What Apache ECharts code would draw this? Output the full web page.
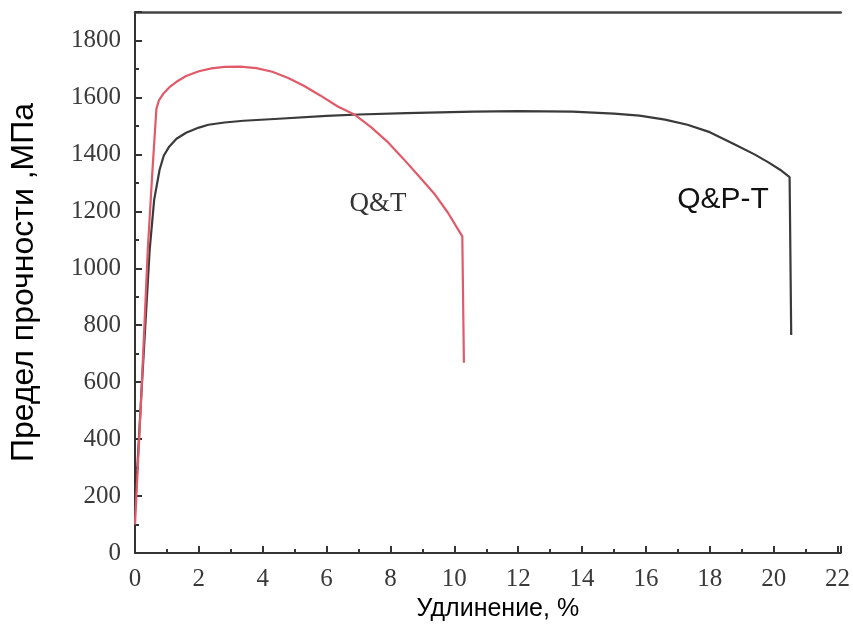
<!DOCTYPE html>
<html>
<head>
<meta charset="utf-8">
<script src="https://cdn.jsdelivr.net/npm/echarts@6/dist/echarts.min.js"></script>
<style>
html,body{margin:0;padding:0;background:#fff;}
#chart{width:853px;height:634px;}
</style>
</head>
<body>
<div id="chart"></div>
<script>
// Q&T curve (red)
var qtStrain = [0, 0.2, 0.4, 0.55, 0.67, 0.75, 0.9, 1.1, 1.3, 1.6, 2.0, 2.4, 2.8, 3.3, 3.8, 4.3, 4.8, 5.3, 5.8, 6.35, 6.9, 7.4, 7.9, 8.4, 8.9, 9.4, 9.8, 10.25, 10.3];
var qtStress = [100, 560, 1065, 1350, 1560, 1590, 1615, 1638, 1655, 1675, 1692, 1702, 1707, 1708, 1703, 1690, 1668, 1640, 1607, 1568, 1538, 1495, 1445, 1385, 1322, 1258, 1195, 1112, 668];
// Q&P-T curve (black)
var qptStrain = [0, 0.2, 0.46, 0.6, 0.77, 0.9, 1.07, 1.3, 1.6, 2.0, 2.3, 2.8, 3.4, 4.5, 6, 7, 8.5, 10.6, 12, 13.7, 15, 15.8, 16.6, 17.3, 18, 18.8, 19.4, 19.85, 20.2, 20.5, 20.55];
var qptStress = [150, 560, 1065, 1240, 1346, 1395, 1427, 1455, 1476, 1494, 1504, 1512, 1518, 1525, 1535, 1540, 1545, 1550, 1552, 1550, 1543, 1536, 1522, 1504, 1478, 1434, 1400, 1371, 1346, 1320, 766];

var xTitle = 'Удлинение, %';
var yTitle = 'Предел прочности ,МПа';
var label1 = 'Q&T';
var label2 = 'Q&P-T';

function pairs(xs, ys){ return xs.map(function(x,i){ return [x, ys[i]]; }); }

var chart = echarts.init(document.getElementById('chart'));
var tickFont = {fontFamily:'Liberation Serif', fontSize:25, color:'#3a3a3a', formatter:function(v){ return String(v); }};
chart.setOption({
  animation:false,
  backgroundColor:'#fff',
  grid:{left:133, right:0, top:12, bottom:81},
  xAxis:[{
    type:'value', min:0, max:22.1, interval:2,
    axisLine:{show:true, onZero:false, lineStyle:{color:'#333', width:2}},
    axisTick:{show:true, inside:true, length:7, lineStyle:{color:'#333', width:2}},
    minorTick:{show:true, splitNumber:2, length:4, lineStyle:{color:'#333', width:2}},
    splitLine:{show:false},
    axisLabel:Object.assign({margin:14, showMaxLabel:false}, tickFont),
    name:xTitle, nameLocation:'middle', nameGap:42,
    nameTextStyle:{fontFamily:'Liberation Sans', fontSize:25, color:'#000', padding:[0,0,0,20]}
  },{
    type:'value', position:'top', min:0, max:22.1,
    axisLine:{show:true, onZero:false, lineStyle:{color:'#444', width:2.5}},
    axisTick:{show:false}, axisLabel:{show:false}, splitLine:{show:false}
  }],
  yAxis:[{
    type:'value', min:0, max:1900, interval:200,
    axisLine:{show:true, onZero:false, lineStyle:{color:'#333', width:2}},
    axisTick:{show:true, inside:true, length:7, lineStyle:{color:'#333', width:2}},
    minorTick:{show:true, splitNumber:2, length:4, lineStyle:{color:'#333', width:2}},
    splitLine:{show:false},
    axisLabel:Object.assign({margin:14, showMaxLabel:false}, tickFont),
    name:yTitle, nameLocation:'middle', nameGap:95,
    nameTextStyle:{fontFamily:'Liberation Sans', fontSize:32, color:'#000'}
  }],
  series:[{
    type:'line', data:pairs(qtStrain, qtStress), showSymbol:false,
    lineStyle:{color:'#e05a6a', width:2.2}, z:3
  },{
    type:'line', data:pairs(qptStrain, qptStress), showSymbol:false,
    lineStyle:{color:'#3a3a3a', width:2.2}, z:2
  }],
  graphic:[{
    type:'text', x:378, y:204,
    style:{text:label1, fontFamily:'Liberation Serif', fontSize:27, fill:'#333', textAlign:'center', textVerticalAlign:'middle'}
  },{
    type:'text', x:723, y:200,
    style:{text:label2, fontFamily:'Liberation Sans', fontSize:30, fill:'#111', textAlign:'center', textVerticalAlign:'middle'}
  }]
});
</script>
</body>
</html>
